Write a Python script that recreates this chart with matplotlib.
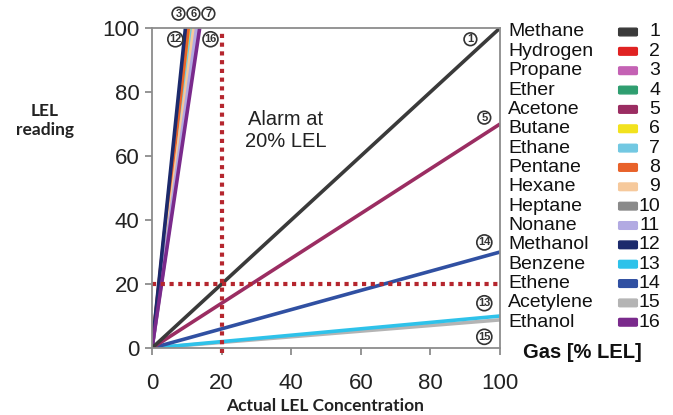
import matplotlib
matplotlib.use("Agg")
import matplotlib.pyplot as plt
from matplotlib.patches import FancyBboxPatch

# gas list (legend order), colours and LEL reading at 100% actual LEL
gases = ["Methane", "Hydrogen", "Propane", "Ether", "Acetone", "Butane", "Ethane",
         "Pentane", "Hexane", "Heptane", "Nonane", "Methanol", "Benzene", "Ethene",
         "Acetylene", "Ethanol"]
numbers = [str(i) for i in range(1, 17)]
colors = ["#3a3a3a", "#e02222", "#c462b4", "#2f9e70", "#9b2d62", "#f2e21e", "#72c8e2",
          "#e8622a", "#f6c99c", "#8a8a8a", "#b2aae2", "#1c2a6c", "#2ec2ea", "#3050a2",
          "#b4b4b4", "#7a2a8c"]
# actual concentration where the steep ones reach a reading of 100
top_x = {"Methanol": 9.6, "Hydrogen": 10.0, "Pentane": 10.4, "Butane": 10.8, "Ether": 11.2,
         "Ethane": 11.6, "Hexane": 12.0, "Propane": 12.4, "Nonane": 12.8, "Heptane": 13.2,
         "Ethanol": 13.7}
# reading at 100 % actual for the shallow ones
end_y = {"Methane": 100, "Acetone": 70, "Ethene": 30, "Benzene": 10, "Acetylene": 8.8}
alarm = 20

fig = plt.figure(figsize=(6.73, 4.15), dpi=100)
ax = fig.add_axes([0.2259, 0.1614, 0.517, 0.771])

for g, c in zip(gases, colors):
    if g in top_x:
        ax.plot([0, top_x[g]], [0, 100], color=c, lw=2.6, solid_capstyle="butt")
for g in ["Acetylene", "Benzene", "Ethene", "Acetone", "Methane"]:
    c = colors[gases.index(g)]
    ax.plot([0, 100], [0, end_y[g]], color=c, lw=2.6, solid_capstyle="butt")

# alarm lines
dot = dict(color="#b5262e", lw=3, linestyle=(0, (1, 1.1)))
ax.plot([0, 100], [alarm, alarm], **dot)
ax.plot([alarm, alarm], [-1.5, 99], clip_on=False, **dot)

ax.set_xlim(0, 100)
ax.set_ylim(0, 100)
ax.set_xticks(range(0, 101, 20))
ax.set_yticks(range(0, 101, 20))
for s in ax.spines.values():
    s.set_color("#8c8c8c")
    s.set_linewidth(1.3)
ax.tick_params(direction="out", length=5, width=1.3, color="#8c8c8c",
               labelsize=16, labelcolor="#222222", pad=4)
for lab in ax.get_xticklabels() + ax.get_yticklabels():
    lab.set_fontfamily("Liberation Sans")
ax.tick_params(axis="x", pad=13)

ax.text(38.5, 68, "Alarm at\n20% LEL", ha="center", va="center", fontsize=14.5,
        family="Liberation Sans", color="#222222", linespacing=1.25)

# circled markers
circ = dict(boxstyle="circle,pad=0.12", fc="white", ec="#333333", lw=1.2)
marks = [("1", 91.5, 96.5), ("5", 95.5, 72), ("14", 95.5, 33), ("13", 95.5, 14),
         ("15", 95.5, 3.5), ("12", 6.7, 96.5), ("16", 16.8, 96.5),
         ("3", 7.6, 104.5), ("6", 11.9, 104.5), ("7", 16.2, 104.5)]
for t, x, y in marks:
    ax.text(x, y, t, ha="center", va="center", fontsize=8, fontweight="bold",
            color="#333333", bbox=circ, clip_on=False, family="Liberation Sans")

fig.text(0.067, 0.71, "LEL\nreading", ha="center", va="center", fontsize=12.5,
         fontweight="bold", family="Lato", color="#222222", linespacing=1.2)
fig.text(0.483, 0.022, "Actual LEL Concentration", ha="center", va="center",
         fontsize=12.5, fontweight="bold", family="Lato", color="#222222")

# legend on the right
y0, dy = 1 - 32 / 415, 19.35 / 415
for i, (g, n, c) in enumerate(zip(gases, numbers, colors)):
    y = y0 - i * dy
    fig.text(508 / 673, y, g, ha="left", va="center", fontsize=14,
             family="Liberation Sans", color="#111111")
    fig.text(660 / 673, y, n, ha="right", va="center", fontsize=14,
             family="Liberation Sans", color="#111111")
    fig.patches.append(FancyBboxPatch((620 / 673, y - 3 / 415), 16 / 673, 6 / 415,
                                      boxstyle="round,pad=0.002", fc=c, ec=c,
                                      transform=fig.transFigure))
fig.text(582 / 673, 1 - 352 / 415, "Gas [% LEL]", ha="center", va="center",
         fontsize=14.5, fontweight="bold", family="Liberation Sans", color="#111111")

fig.savefig("out.png", dpi=100)
